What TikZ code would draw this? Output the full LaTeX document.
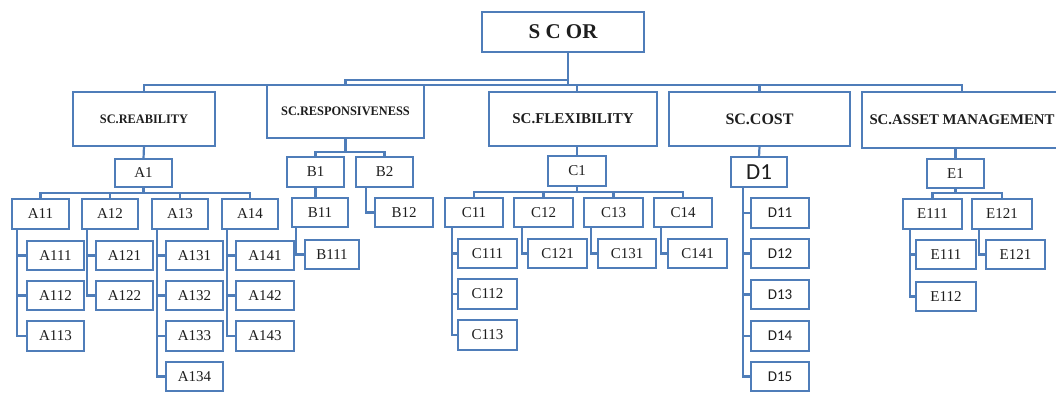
\documentclass[tikz,border=0pt]{standalone}
\usepackage{fontspec}
\setmainfont{Liberation Serif}
\newfontfamily\condf{Liberation Serif}[FakeStretch=0.95]
\newfontfamily\dfont{Carlito}
\usetikzlibrary{calc}
\definecolor{ln}{RGB}{79,125,185}
\definecolor{tx}{RGB}{30,30,30}
\newcommand\bx[7][]{%
  \pgfmathsetmacro\bxcx{(#3+#5)/2}%
  \pgfmathsetmacro\bxcy{(#4+#6)/2}%
  \pgfmathsetmacro\bxw{#5-#3}%
  \pgfmathsetmacro\bxh{#6-#4}%
  \node[box,#1,minimum width=\bxw pt,minimum height=\bxh pt] (#2) at (\bxcx,\bxcy) {#7};}
\begin{document}
\begin{tikzpicture}[x=1pt,y=-1pt,
  box/.style={draw=ln,line width=2pt,fill=white,inner sep=0pt,outer sep=0pt,text=tx,font=\fontsize{15}{17}\selectfont},
  hd/.style={font=\condf\bfseries\fontsize{13}{15}\selectfont},
  dd/.style={font=\dfont\fontsize{15}{17}\selectfont},
  con/.style={draw=ln,line width=2.2pt}]
\useasboundingbox (0,0) rectangle (1056,392);
\clip (0,0) rectangle (1056,392);
% level 0 and 1
\bx[font=\bfseries\fontsize{21}{23}\selectfont]{SCOR}{482}{12}{644}{52}{S C OR}
\bx[hd]{REL}{73}{92}{215}{146}{SC.REABILITY}
\bx[hd]{RSP}{267}{85}{424}{138}{SC.RESPONSIVENESS}
\bx[font=\bfseries\fontsize{15}{17}\selectfont]{FLX}{489}{92}{657}{146}{SC.FLEXIBILITY}
\bx[font=\bfseries\fontsize{16}{18}\selectfont]{CST}{669}{92}{850}{146}{SC.COST}
\bx[font=\bfseries\fontsize{14.8}{17}\selectfont]{AST}{862}{92}{1062}{148}{SC.ASSET MANAGEMENT}
% level 2
\bx{A1}{115}{159}{172}{187}{A1}
\bx{B1}{287}{157}{344}{187}{B1}
\bx{B2}{356}{157}{413}{187}{B2}
\bx{C1}{548}{156}{606}{186}{C1}
\bx[font=\dfont\fontsize{23}{25}\selectfont]{D1}{731}{157}{787}{187}{D1}
\bx{E1}{927}{159}{984}{188}{E1}
% level 3
\bx{A11}{12}{199}{69}{229}{A11}
\bx{A12}{82}{199}{138}{229}{A12}
\bx{A13}{152}{199}{208}{229}{A13}
\bx{A14}{222}{199}{278}{229}{A14}
\bx{A111}{27}{241}{84}{270}{A111}
\bx{A112}{27}{281}{84}{310}{A112}
\bx{A113}{27}{321}{84}{351}{A113}
\bx{A121}{96}{241}{153}{270}{A121}
\bx{A122}{96}{281}{153}{310}{A122}
\bx{A131}{166}{241}{223}{270}{A131}
\bx{A132}{166}{281}{223}{310}{A132}
\bx{A133}{166}{321}{223}{351}{A133}
\bx{A134}{166}{362}{223}{391}{A134}
\bx{A141}{236}{241}{294}{270}{A141}
\bx{A142}{236}{281}{294}{310}{A142}
\bx{A143}{236}{321}{294}{351}{A143}
\bx{B11}{292}{198}{348}{227}{B11}
\bx{B111}{305}{240}{359}{269}{B111}
\bx{B12}{375}{198}{433}{227}{B12}
\bx{C11}{445}{198}{503}{227}{C11}
\bx{C12}{514}{198}{573}{227}{C12}
\bx{C13}{584}{198}{643}{227}{C13}
\bx{C14}{654}{198}{712}{227}{C14}
\bx{C111}{458}{239}{517}{268}{C111}
\bx{C112}{458}{279}{517}{309}{C112}
\bx{C113}{458}{320}{517}{350}{C113}
\bx{C121}{528}{239}{587}{268}{C121}
\bx{C131}{598}{239}{656}{268}{C131}
\bx{C141}{668}{239}{727}{268}{C141}
\bx[dd]{D11}{751}{198}{809}{228}{D11}
\bx[dd]{D12}{751}{239}{809}{268}{D12}
\bx[dd]{D13}{751}{280}{809}{309}{D13}
\bx[dd]{D14}{751}{321}{809}{351}{D14}
\bx[dd]{D15}{751}{362}{809}{391}{D15}
\bx{E111a}{903}{199}{962}{229}{E111}
\bx{E121a}{972}{199}{1032}{229}{E121}
\bx{E111b}{916}{240}{976}{269}{E111}
\bx{E112}{916}{282}{976}{311}{E112}
\bx{E121b}{986}{240}{1045}{269}{E121}
% connectors, top
\draw[con] ([xshift=5pt]SCOR.south) -- ([xshift=5pt]SCOR.south |- RSP.north);
\draw[con] (RSP.north) -- ++(0,-5) -| ([xshift=5pt]SCOR.south);
\draw[con] (REL.north) -- ++(0,-7) -| (AST.north);
\draw[con] (C1.north |- FLX.north) -- ++(0,-7);
\draw[con] (CST.north) -- ++(0,-7);
% level 1 to 2
\draw[con] (REL.south) -- (A1.north);
\draw[con] (RSP.south) -- ++(0,14) -| (B1.north);
\draw[con] (RSP.south) ++(0,14) -| (B2.north);
\draw[con] (C1.north |- FLX.south) -- (C1.north);
\draw[con] (CST.south) -- (D1.north);
\draw[con] (E1.north |- AST.south) -- (E1.north);
% level 2 to 3
\draw[con] (A1.south) -- ++(0,6);
\draw[con] (A11.north) -- ++(0,-6) -| (A14.north);
\draw[con] (A12.north) -- ++(0,-6);
\draw[con] (A13.north) -- ++(0,-6);
\draw[con] (B1.south) -- (B1.south |- B11.north);
\draw[con] ([xshift=10pt]B2.south west) |- (B12.west);
\draw[con] (C1.south) -- ++(0,6);
\draw[con] (C11.north) -- ++(0,-6) -| (C14.north);
\draw[con] (C12.north) -- ++(0,-6);
\draw[con] (C13.north) -- ++(0,-6);
\draw[con] (E1.south) -- ++(0,5);
\draw[con] (E111a.north) -- ++(0,-6) -| (E121a.north);
% side connectors
\foreach \c/\p/\o in {A111/A11/5,A112/A11/5,A113/A11/5,
  A121/A12/5,A122/A12/5,
  A131/A13/5,A132/A13/5,A133/A13/5,A134/A13/5,
  A141/A14/5,A142/A14/5,A143/A14/5,
  B111/B11/4,
  C111/C11/7,C112/C11/7,C113/C11/7,C121/C12/8,C131/C13/7,C141/C14/7,
  D11/D1/12,D12/D1/12,D13/D1/12,D14/D1/12,D15/D1/12,
  E111b/E111a/7,E112/E111a/7,E121b/E121a/7}
  \draw[con] (\c.west) -| ([xshift=\o pt]\p.south west);
\end{tikzpicture}
\end{document}
